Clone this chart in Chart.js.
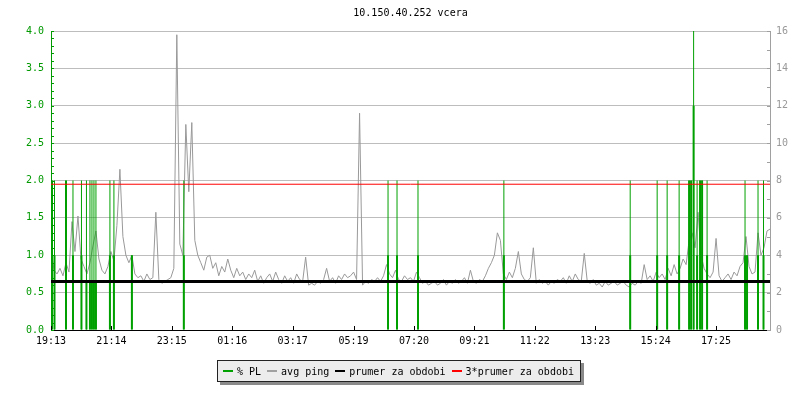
<!DOCTYPE html>
<html>
<head>
<meta charset="utf-8">
<script src="https://cdn.jsdelivr.net/npm/chart.js@4.4.0/dist/chart.umd.min.js"></script>
<style>
html,body{margin:0;padding:0;background:#fff;}
#wrap{position:relative;width:800px;height:400px;}
#legend{position:absolute;left:217px;top:360px;width:357px;height:20px;background:#ececec;border:1px solid #222;box-shadow:3px 3px 0 #8a8a8a;font:10px "DejaVu Sans Mono",monospace;color:#000;display:flex;align-items:center;padding-left:5px;box-sizing:content-box;white-space:pre;}
#legend .sw{display:inline-block;width:10px;height:2px;margin-right:4px;}
#legend .it{display:inline-flex;align-items:center;margin-right:6px;}
</style>
</head>
<body>
<div id="wrap">
<canvas id="c" width="800" height="400"></canvas>
<div id="legend"></div>
</div>
<script>
// ---- data ----
const chartTitle = "10.150.40.252 vcera";
const tickMinutes = [0,121,242,363,484,606,727,848,969,1090,1211,1332];
const tickLabels = ["19:13","21:14","23:15","01:16","03:17","05:19","07:20","09:21","11:22","13:23","15:24","17:25"];
const pingStepMin = 6;
// avg ping in ms, one value every 6 minutes starting 19:13
const pingValues = [
 4.4,3.2,3.0,3.3,2.9,3.6,3.1,5.8,4.2,6.1,
 3.8,3.4,3.0,3.6,4.5,5.3,3.8,3.2,3.0,3.4,
 4.2,3.7,5.6,8.6,5.0,4.0,3.6,4.0,3.0,2.8,
 2.9,2.6,3.0,2.7,2.8,6.3,2.7,2.5,2.6,2.7,
 2.8,3.3,15.8,4.6,4.0,11.0,7.4,11.1,4.8,4.0,
 3.6,3.2,3.9,4.0,3.3,3.6,2.9,3.4,3.1,3.8,
 3.2,2.8,3.3,2.9,3.1,2.7,3.0,2.8,3.2,2.6,
 2.9,2.5,2.8,3.0,2.6,3.1,2.7,2.5,2.9,2.6,
 2.8,2.5,3.0,2.7,2.6,3.9,2.4,2.5,2.4,2.6,
 2.5,2.7,3.3,2.6,2.8,2.5,2.9,2.7,3.0,2.8,
 2.9,3.1,2.7,11.6,2.4,2.6,2.5,2.7,2.6,2.8,
 2.6,2.9,3.5,3.0,2.8,3.2,2.7,2.6,2.9,2.7,
 2.8,2.6,3.1,2.8,2.5,2.6,2.4,2.5,2.6,2.4,
 2.5,2.7,2.4,2.6,2.5,2.7,2.5,2.6,2.8,2.5,
 3.2,2.6,2.5,2.7,2.6,2.9,3.3,3.6,4.0,5.2,
 4.8,3.0,2.7,3.1,2.8,3.3,4.2,3.0,2.7,2.6,
 2.8,4.4,2.5,2.7,2.5,2.6,2.4,2.6,2.5,2.7,
 2.6,2.8,2.5,2.9,2.6,3.0,2.7,2.6,4.1,2.6,
 2.5,2.7,2.4,2.5,2.3,2.6,2.4,2.5,2.6,2.4,
 2.5,2.6,2.4,2.3,2.5,2.4,2.6,2.5,3.5,2.7,
 2.9,2.6,3.1,2.8,3.0,2.7,3.3,2.9,3.5,3.0,
 3.3,3.8,3.5,4.8,5.2,4.4,6.3,4.0,3.3,3.0,
 2.8,3.1,4.9,2.9,2.6,2.8,3.0,2.7,3.1,2.9,
 3.4,3.6,5.0,3.4,3.0,3.1,5.2,4.0,4.4,5.3,
 5.4
];
// packet loss events: minute, top of thin line, top of thick part (% PL)
const plMinutes = [2,7,30,44,61,71,78,82,86,90,118,126,162,266,675,693,735,907,1160,1214,1234,1258,1278,1282,1287,1294,1300,1304,1314,1390,1394,1416,1427];
const plTop     = [2,2,2,2,2,2,2,2,2,2,2,2,1,2,2,2,2,2,2,2,2,2,2,2,4,2,2,2,2,2,1,2,2];
const plThick   = [2,1,2,1,1,0.65,0.65,0.65,0.65,0.65,1,1,1,1,1,1,1,1,1,1,1,1,2,2,3,1,2,2,1,1,1,1,1];
const meanPing = 2.6;        // prumer za obdobi (ms)
const tripleMeanPing = 7.8;  // 3*prumer za obdobi (ms)
const seriesLabels = ["% PL","avg ping","prumer za obdobi","3*prumer za obdobi"];
const seriesColors = ["#00a000","#a0a0a0","#000000","#ff0000"];

const GREEN = "#009900";
const GRID = "#bdbdbd";
const FONT = '"DejaVu Sans Mono", monospace';
Chart.defaults.font.family = FONT;
Chart.defaults.font.size = 10;

const pingData = pingValues.map((v,i)=>({x:i*pingStepMin, y:v}));
const plThinData = plMinutes.map((m,i)=>({x:m, y:plTop[i]}));
const plThickData = plMinutes.map((m,i)=>({x:m, y:plThick[i]}));

const decor = {
  id:'decor',
  afterDatasetsDraw(chart){
    const {ctx, chartArea:a, scales} = chart;
    const y = scales.y, y1 = scales.y1, x = scales.x;
    ctx.save();
    ctx.lineWidth = 1;
    ctx.strokeStyle = GREEN;
    for (let k=0;k<=40;k++){
      const py = Math.round(y.getPixelForValue(k/10))+0.5;
      ctx.beginPath(); ctx.moveTo(a.left, py); ctx.lineTo(a.left+3, py); ctx.stroke();
    }
    ctx.strokeStyle = "#a0a0a0";
    for (let k=0;k<=16;k++){
      const py = Math.round(y1.getPixelForValue(k))+0.5;
      ctx.beginPath(); ctx.moveTo(a.right-3, py); ctx.lineTo(a.right, py); ctx.stroke();
    }
    ctx.strokeStyle = "#000";
    tickMinutes.forEach(m=>{
      const px = Math.round(x.getPixelForValue(m))+0.5;
      ctx.beginPath(); ctx.moveTo(px, a.bottom); ctx.lineTo(px, a.bottom-4); ctx.stroke();
    });
    ctx.restore();
  },
  afterDraw(chart){
    const {ctx, chartArea:a} = chart;
    ctx.save();
    ctx.fillStyle = "#000";
    ctx.font = '10px ' + FONT;
    ctx.textAlign = 'center';
    ctx.textBaseline = 'middle';
    ctx.fillText(chartTitle, (a.left+a.right)/2, 13);
    ctx.restore();
  }
};

new Chart(document.getElementById('c'), {
  type:'line',
  data:{ datasets:[
    {label:seriesLabels[1], type:'line', data:pingData, xAxisID:'x', yAxisID:'y1', borderColor:'#999999', borderWidth:1, pointRadius:0, tension:0, order:4},
    {label:seriesLabels[0], type:'bar', data:plThinData, xAxisID:'x', yAxisID:'y', backgroundColor:seriesColors[0], barThickness:1, grouped:false, inflateAmount:0, order:3},
    {label:seriesLabels[0]+" ", type:'bar', data:plThickData, xAxisID:'x', yAxisID:'y', backgroundColor:seriesColors[0], barThickness:2, grouped:false, inflateAmount:0, order:3},
    {label:seriesLabels[2], type:'line', data:[{x:0,y:meanPing},{x:1440,y:meanPing}], xAxisID:'x', yAxisID:'y1', borderColor:seriesColors[2], borderWidth:3, pointRadius:0, order:1},
    {label:seriesLabels[3], type:'line', data:[{x:0,y:tripleMeanPing},{x:1440,y:tripleMeanPing}], xAxisID:'x', yAxisID:'y1', borderColor:seriesColors[3], borderWidth:1, pointRadius:0, order:1}
  ]},
  options:{
    responsive:false, animation:false, devicePixelRatio:1,
    layout:{padding:{top:31,left:0,right:0,bottom:0}},
    plugins:{legend:{display:false}, tooltip:{enabled:false}, title:{display:false}},
    scales:{
      x:{type:'linear', min:0, max:1440, offset:false,
         afterBuildTicks(s){ s.ticks = tickMinutes.map(v=>({value:v})); },
         afterFit(s){ s.height = 70; },
         grid:{drawOnChartArea:false, drawTicks:false},
         border:{color:'#000', width:1},
         ticks:{autoSkip:false, maxRotation:0, padding:5, color:'#000', callback:(v,i)=>tickLabels[i]}},
      y:{type:'linear', position:'left', min:0, max:4,
         afterFit(s){ s.width = 51; },
         grid:{color:GRID, drawTicks:false},
         border:{color:GREEN, width:1},
         ticks:{stepSize:0.5, padding:7, color:GREEN, callback:v=>Number(v).toFixed(1)}},
      y1:{type:'linear', position:'right', min:0, max:16,
         afterFit(s){ s.width = 30; },
         grid:{drawOnChartArea:false, drawTicks:false},
         border:{color:'#a0a0a0', width:1},
         ticks:{stepSize:2, padding:6, color:'#999999'}}
    }
  },
  plugins:[decor]
});

// HTML legend
const lg = document.getElementById('legend');
seriesLabels.forEach((t,i)=>{
  const it = document.createElement('span'); it.className='it';
  const sw = document.createElement('span'); sw.className='sw'; sw.style.background = seriesColors[i];
  const tx = document.createElement('span'); tx.textContent = t;
  it.appendChild(sw); it.appendChild(tx); lg.appendChild(it);
});
</script>
</body>
</html>
